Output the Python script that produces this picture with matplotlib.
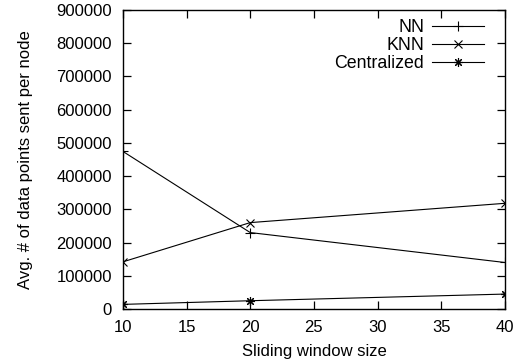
import matplotlib
matplotlib.use("Agg")
import matplotlib.pyplot as plt

window_sizes = [10, 20, 40]
nn_values = [474000, 230000, 140000]
knn_values = [142000, 260000, 318000]
central_values = [14000, 25000, 45000]
series_labels = ["NN", "KNN", "Centralized"]
x_ticks = [10, 15, 20, 25, 30, 35, 40]
y_ticks = list(range(0, 900001, 100000))

plt.rcParams['font.family'] = ['Liberation Sans', 'DejaVu Sans']
plt.rcParams['font.size'] = 12

fig = plt.figure(figsize=(5.21, 3.64), dpi=100)
ax = fig.add_axes([0.236, 0.151, 0.733, 0.822])

kw = dict(color='black', linewidth=0.8, markeredgewidth=0.8)
ax.plot(window_sizes, nn_values, marker='+', markersize=7, label=series_labels[0], **kw)
ax.plot(window_sizes, knn_values, marker='x', markersize=5.5, label=series_labels[1], **kw)
ax.plot(window_sizes, central_values, marker=(8, 2, 0), markersize=6.5, label=series_labels[2], **kw)

ax.set_xlim(10, 40)
ax.set_ylim(0, 900000)
ax.set_xticks(x_ticks)
ax.set_yticks(y_ticks)
ax.set_yticklabels([str(v) for v in y_ticks])
ax.tick_params(direction='in', top=True, right=True, length=6, width=0.9, pad=8)
for s in ax.spines.values():
    s.set_linewidth(1.0)

ax.set_xlabel("Sliding window size")
ax.set_ylabel("Avg. # of data points sent per node")
ax.yaxis.set_label_coords(-0.236, 0.5)
ax.xaxis.set_label_coords(0.5, -0.118)

leg = ax.legend(loc='upper right', bbox_to_anchor=(0.945, 0.968), frameon=False,
                markerfirst=False, handlelength=2.9, labelspacing=0.05,
                borderaxespad=0, borderpad=0, handletextpad=0.45,
                fontsize=12.8)

fig.savefig("out.png", dpi=100)
